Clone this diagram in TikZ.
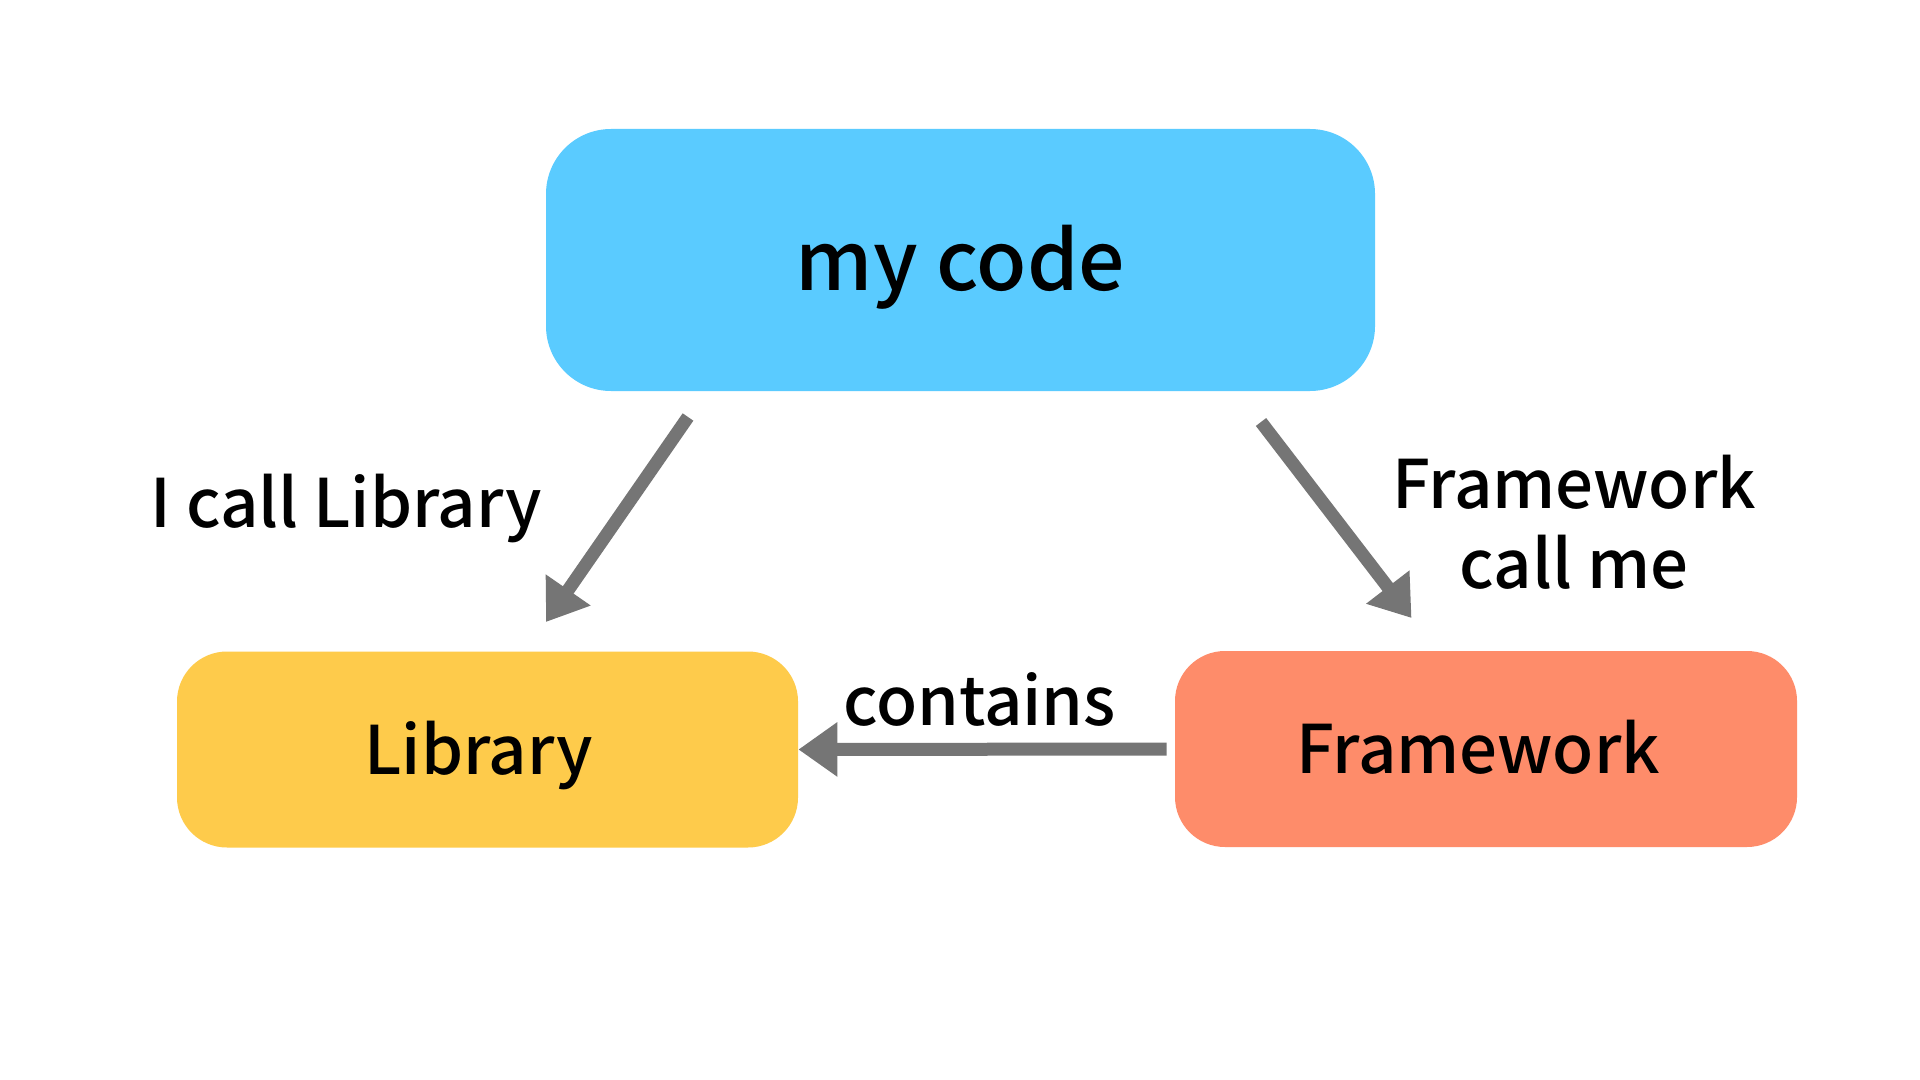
\documentclass[tikz,border=0pt]{standalone}
\usepackage{fontspec}
\setmainfont{Noto Sans CJK SC}[BoldFont={Noto Sans CJK SC Medium}]
\usetikzlibrary{arrows.meta}
\definecolor{codeblue}{RGB}{90,203,255}
\definecolor{libyellow}{RGB}{254,203,75}
\definecolor{fwsalmon}{RGB}{254,140,106}
\definecolor{arrgray}{RGB}{117,117,117}
\tikzset{
  box/.style={draw=none, inner sep=0pt, text height=24.5pt, text depth=0pt,
    font=\bfseries\fontsize{33.5pt}{40pt}\selectfont},
  lbl/.style={inner sep=0pt, anchor=base, font=\bfseries\fontsize{33.5pt}{40pt}\selectfont},
  arr/.style={draw=arrgray, line width=6.5pt, -{Triangle[length=19.5pt, width=26pt]}},
}
\begin{document}
\begin{tikzpicture}[x=0.5pt, y=-0.5pt]
\useasboundingbox[fill=white] (0,0) rectangle (1920,1080);
\node[box, fill=codeblue, minimum width=414.5pt, minimum height=131pt, rounded corners=32.5pt,
  text height=31pt, font=\bfseries\fontsize{41pt}{48pt}\selectfont] (code) at (960.5,260) {my code};
\node[box, fill=libyellow, minimum width=310.5pt, minimum height=98pt, rounded corners=25pt] (lib) at (487.5,749.5) {Library\hspace*{9pt}};
\node[box, fill=fwsalmon, minimum width=311pt, minimum height=98pt, rounded corners=25pt] (fw) at (1486,749) {Framework\hspace*{8pt}};
\coordinate (a1s) at (688,417);
\coordinate (a1e) at (546,622);
\coordinate (a2s) at (1261,422);
\coordinate (a2e) at (1411.5,618);
\draw[arr] (a1s) -- (a1e);
\draw[arr] (a2s) -- (a2e);
\draw[arr] ([xshift=-4pt]fw.west) -- (lib.east);
\node[lbl] (l1) at (346,527) {I call Library};
\node[lbl, align=center] (l2) at (1574,588) {Framework\\[0pt]call me};
\node[lbl] (l3) at (979.5,725) {contains};
\end{tikzpicture}
\end{document}
